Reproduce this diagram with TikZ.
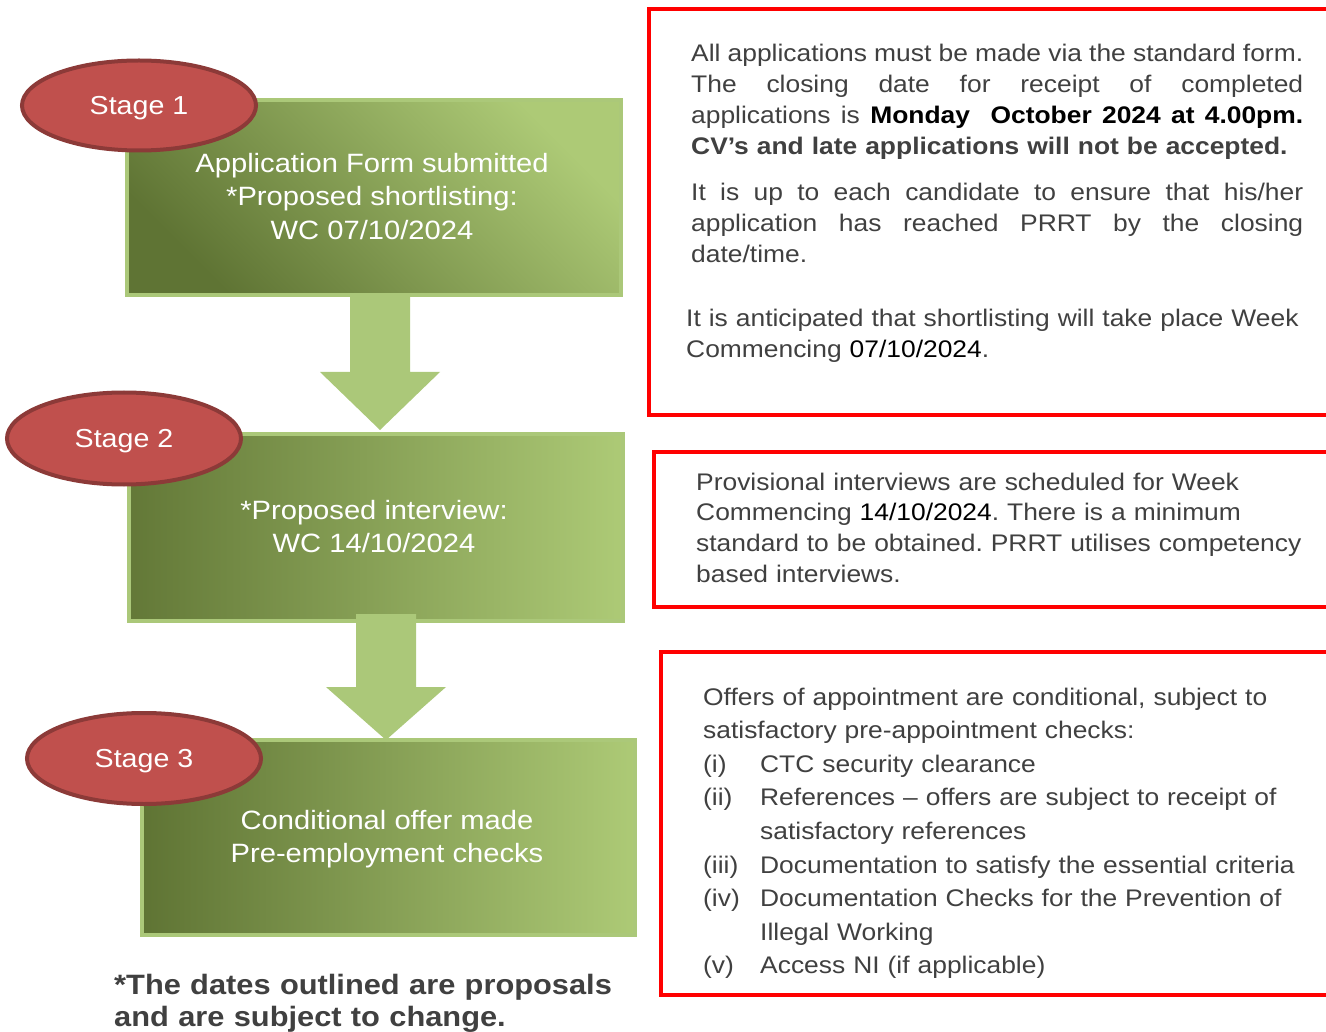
\documentclass[tikz,border=0pt]{standalone}
\usepackage{fontspec}
\setmainfont{Liberation Sans}[FakeStretch=1.1]
\usetikzlibrary{shapes.geometric,calc}
\definecolor{gdark}{HTML}{5F7434}
\definecolor{glight}{HTML}{ADCA76}
\definecolor{gedge}{HTML}{ABC879}
\definecolor{ovfill}{HTML}{C0504D}
\definecolor{ovedge}{HTML}{8C3A38}
\definecolor{txt}{HTML}{404040}
\definecolor{redline}{HTML}{FF0000}
\newcommand{\jline}[1]{\makebox[612pt][s]{\spaceskip=0pt\xspaceskip=0pt\relax #1}}
\begin{document}
\begin{tikzpicture}[x=1pt,y=-1pt,
  stagebox/.style={draw=gedge, line width=4pt, rectangle, anchor=north west, inner sep=0pt},
  stageoval/.style={ellipse, draw=ovedge, fill=ovfill, line width=4pt, minimum width=234pt, inner sep=0pt,
     text=white, font=\fontsize{26}{30}\selectfont, text height=18.6pt, text depth=0pt},
  gtext/.style={text=white, align=center, inner sep=0pt, font=\fontsize{26.5}{33.5}\selectfont},
  body/.style={text=txt, align=left, inner sep=0pt, anchor=base west, font=\fontsize{24}{30.7}\selectfont\frenchspacing},
  redbox/.style={draw=redline, line width=4pt},
  blockarrow/.style={fill=gedge},
  foot/.style={text=txt, align=left, inner sep=0pt, anchor=base west, font=\fontsize{28}{32}\selectfont\bfseries}
]
\useasboundingbox (0,0) rectangle (1326,1032);
\clip (0,0) rectangle (1326,1032);
\fill[white] (0,0) rectangle (1326,1032);

% green stage boxes
\node[stagebox, minimum width=494pt, minimum height=195pt, top color=glight, bottom color=gdark, shading angle=-45] (s1) at (125,98) {};
\node[stagebox, minimum width=494pt, minimum height=187pt, left color=gdark!95!glight, right color=glight] (s2) at (127,432) {};
\node[stagebox, minimum width=493pt, minimum height=195pt, left color=gdark, right color=glight] (s3) at (140,738) {};

% block arrows
\coordinate (a1top) at (380,295);
\coordinate (a1tip) at (380,430);
\fill[blockarrow] ($(a1top)+(-30,0)$) -- ++(0,77) -- ++(-30,0) -- (a1tip) -- ++(60,-58) -- ++(-30,0) -- ($(a1top)+(30,0)$) -- cycle;
\coordinate (a2top) at (386,614);
\coordinate (a2tip) at (386,740);
\fill[blockarrow] ($(a2top)+(-30,0)$) -- ++(0,73) -- ++(-30,0) -- (a2tip) -- ++(60,-53) -- ++(-30,0) -- ($(a2top)+(30,0)$) -- cycle;

% stage ovals
\node[stageoval, minimum height=90pt] (o1) at (139,105.5) {Stage 1};
\node[stageoval, minimum height=92pt] (o2) at (124,438.5) {Stage 2};
\node[stageoval, minimum height=91pt] (o3) at (144,758.5) {Stage 3};

% green box texts (base anchor = last line)
\node[gtext, anchor=base] (g1) at (372,239.5) {Application Form submitted\\*Proposed shortlisting:\\WC 07/10/2024};
\node[gtext, anchor=base] (g2) at (374,552.5) {*Proposed interview:\\WC 14/10/2024};
\node[gtext, anchor=base] (g3) at (387,862.5) {Conditional offer made\\Pre-employment checks};

% red boxes
\draw[redbox] (649,9) rectangle (1340,415);
\draw[redbox] (654,452) rectangle (1340,607);
\draw[redbox] (661,652) rectangle (1340,995);

% box 1 text
\node[body, text width=612pt] (p1) at (691,62) {%
\jline{All applications must be made via the standard form.}\\
\jline{The closing date for receipt of completed}\\
\jline{applications is \textcolor{black}{\bfseries Monday\ \ October 2024 at 4.00pm.}}\\
{\bfseries CV’s and late applications will not be accepted.}};
\node[body, text width=612pt] (p2) at (691,201) {%
\jline{It is up to each candidate to ensure that his/her}\\
\jline{application has reached PRRT by the closing}\\
date/time.};
\node[body, text width=630pt] (p3) at (686,327) {%
It is anticipated that shortlisting will take place Week\\
Commencing \textcolor{black}{07/10/2024}.};

% box 2 text
\node[body, text width=625pt] (p4) at (696,490) {%
Provisional interviews are scheduled for Week\\
Commencing \textcolor{black}{14/10/2024}. There is a minimum\\
standard to be obtained. PRRT utilises competency\\
based interviews.};

% box 3 text
\node[body, text width=620pt, font=\fontsize{24}{33.6}\selectfont] (p5) at (703,705) {%
Offers of appointment are conditional, subject to\\
satisfactory pre-appointment checks:\\
\makebox[57pt][l]{(i)}CTC security clearance\\
\makebox[57pt][l]{(ii)}References – offers are subject to receipt of\\
\hspace*{57pt}satisfactory references\\
\makebox[57pt][l]{(iii)}Documentation to satisfy the essential criteria\\
\makebox[57pt][l]{(iv)}Documentation Checks for the Prevention of\\
\hspace*{57pt}Illegal Working\\
\makebox[57pt][l]{(v)}Access NI (if applicable)};

% footnote
\node[foot, text width=560pt] (fn) at (114,994) {*The dates outlined are proposals\\and are subject to change.};
\end{tikzpicture}
\end{document}
